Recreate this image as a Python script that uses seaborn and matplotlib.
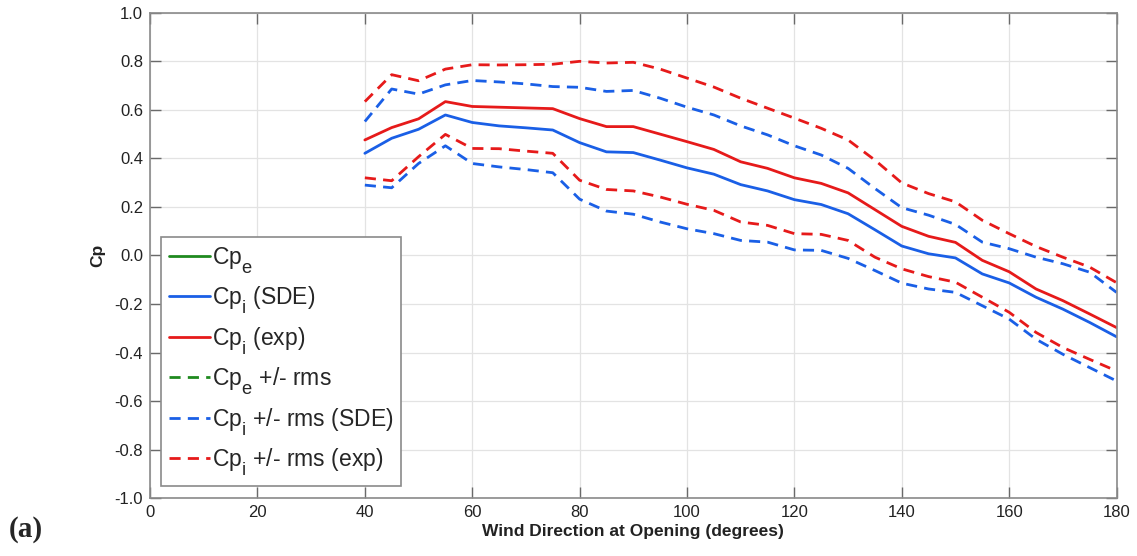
import numpy as np
import pandas as pd
import matplotlib
matplotlib.use("Agg")
import matplotlib.pyplot as plt
from matplotlib.lines import Line2D
import seaborn as sns

try:
    import matplotlib._mathtext as _mt
    _mt.SHRINK_FACTOR = 0.8
    _mt.FontConstantsBase.sub1 = 0.75
    _mt.FontConstantsBase.sub2 = 0.9
except Exception:
    pass

# ---- data ----
angles = [40, 45, 50, 55, 60, 65, 70, 75, 80, 85, 90, 95, 100, 105, 110, 115,
          120, 125, 130, 135, 140, 145, 150, 155, 160, 165, 170, 175, 180]

cpi_sde = [0.421, 0.483, 0.520, 0.579, 0.548, 0.534, 0.526, 0.517, 0.465, 0.427,
           0.424, 0.393, 0.361, 0.335, 0.292, 0.266, 0.230, 0.210, 0.172, 0.106,
           0.039, 0.007, -0.010, -0.076, -0.113, -0.172, -0.221, -0.276, -0.335]
cpi_exp = [0.476, 0.527, 0.563, 0.634, 0.614, 0.611, 0.608, 0.605, 0.564, 0.531,
           0.531, 0.500, 0.469, 0.437, 0.386, 0.359, 0.320, 0.297, 0.258, 0.189,
           0.120, 0.079, 0.054, -0.020, -0.067, -0.138, -0.186, -0.241, -0.297]

sde_up = [0.552, 0.686, 0.665, 0.703, 0.721, 0.715, 0.707, 0.696, 0.693, 0.676,
          0.680, 0.648, 0.611, 0.579, 0.534, 0.497, 0.452, 0.414, 0.359, 0.276,
          0.197, 0.166, 0.128, 0.055, 0.028, -0.007, -0.034, -0.069, -0.152]
sde_lo = [0.290, 0.279, 0.379, 0.452, 0.379, 0.365, 0.354, 0.341, 0.232, 0.183,
          0.170, 0.138, 0.110, 0.090, 0.062, 0.055, 0.023, 0.021, -0.012, -0.062,
          -0.114, -0.138, -0.152, -0.207, -0.262, -0.345, -0.407, -0.462, -0.517]
exp_up = [0.634, 0.745, 0.720, 0.768, 0.786, 0.785, 0.786, 0.788, 0.800, 0.793,
          0.796, 0.768, 0.731, 0.694, 0.648, 0.607, 0.566, 0.524, 0.476, 0.393,
          0.299, 0.255, 0.221, 0.145, 0.090, 0.037, -0.007, -0.048, -0.112]
exp_lo = [0.320, 0.308, 0.407, 0.499, 0.441, 0.440, 0.430, 0.421, 0.310, 0.272,
          0.266, 0.241, 0.211, 0.186, 0.138, 0.124, 0.090, 0.087, 0.062, -0.007,
          -0.055, -0.087, -0.110, -0.172, -0.234, -0.317, -0.379, -0.428, -0.476]

legend_labels = [r"Cp$_\mathregular{e}$", r"Cp$_\mathregular{i}$ (SDE)", r"Cp$_\mathregular{i}$ (exp)",
                 r"Cp$_\mathregular{e}$ +/- rms", r"Cp$_\mathregular{i}$ +/- rms (SDE)",
                 r"Cp$_\mathregular{i}$ +/- rms (exp)"]

x_ticks = [0, 20, 40, 60, 80, 100, 120, 140, 160, 180]
y_ticks = [-1.0, -0.8, -0.6, -0.4, -0.2, 0.0, 0.2, 0.4, 0.6, 0.8, 1.0]

# ---- style ----
sns.set_theme(style="whitegrid")
plt.rcParams['font.family'] = ['Liberation Sans', 'DejaVu Sans']
plt.rcParams['mathtext.fontset'] = 'custom'
plt.rcParams['mathtext.rm'] = 'Liberation Sans'

GREEN = "#1f8a1f"
BLUE = "#1a5fe6"
RED = "#e61a1a"
LW = 2.0
DASH = (4, 2.6)

fig = plt.figure(figsize=(11.37, 5.56), dpi=100)
ax = fig.add_axes([0.132, 0.104, 0.850, 0.873])
ax.set_facecolor("white")

df = pd.DataFrame({"angle": angles, "sde": cpi_sde, "exp": cpi_exp,
                   "sde_up": sde_up, "sde_lo": sde_lo, "exp_up": exp_up, "exp_lo": exp_lo})

sns.lineplot(data=df, x="angle", y="sde", ax=ax, color=BLUE, lw=LW)
sns.lineplot(data=df, x="angle", y="exp", ax=ax, color=RED, lw=LW)
for col, c in [("sde_up", BLUE), ("sde_lo", BLUE), ("exp_up", RED), ("exp_lo", RED)]:
    sns.lineplot(data=df, x="angle", y=col, ax=ax, color=c, lw=LW, dashes=False)
    ax.lines[-1].set_dashes(DASH)

ax.set_xlim(0, 180)
ax.set_ylim(-1.0, 1.0)
ax.set_xticks(x_ticks)
ax.set_yticks(y_ticks)
ax.set_yticklabels([f"{v:.1f}" for v in y_ticks])
ax.grid(True, color="#e3e3e3", lw=0.9)
for s in ax.spines.values():
    s.set_color("#8a8a8a")
    s.set_linewidth(1.2)
ax.tick_params(axis="both", direction="in", length=8, width=1, color="#6a6a6a",
               labelsize=12, labelcolor="#222222", top=True, right=True,
               bottom=True, left=True, pad=5)

ax.set_xlabel("Wind Direction at Opening (degrees)", fontsize=12.5, fontweight="bold",
              color="#222222", labelpad=3)
ax.set_ylabel("Cp", fontsize=12.5, fontweight="bold", color="#222222", labelpad=7)

handles = [Line2D([], [], color=GREEN, lw=LW),
           Line2D([], [], color=BLUE, lw=LW),
           Line2D([], [], color=RED, lw=LW),
           Line2D([], [], color=GREEN, lw=LW, dashes=DASH),
           Line2D([], [], color=BLUE, lw=LW, dashes=DASH),
           Line2D([], [], color=RED, lw=LW, dashes=DASH)]
leg = ax.legend(handles, legend_labels, loc="lower left", bbox_to_anchor=(0.011, 0.025),
                fontsize=16.5, frameon=True, fancybox=False, framealpha=1,
                edgecolor="#8a8a8a", handlelength=1.8, handletextpad=0.08,
                labelspacing=0.38, borderpad=0.35, borderaxespad=0)
leg.get_frame().set_linewidth(1.2)

fig.text(0.008, 0.034, "(a)", fontsize=21, fontweight="bold", family="Liberation Serif",
         va="baseline")

fig.savefig("out.png", dpi=100, facecolor="white")
